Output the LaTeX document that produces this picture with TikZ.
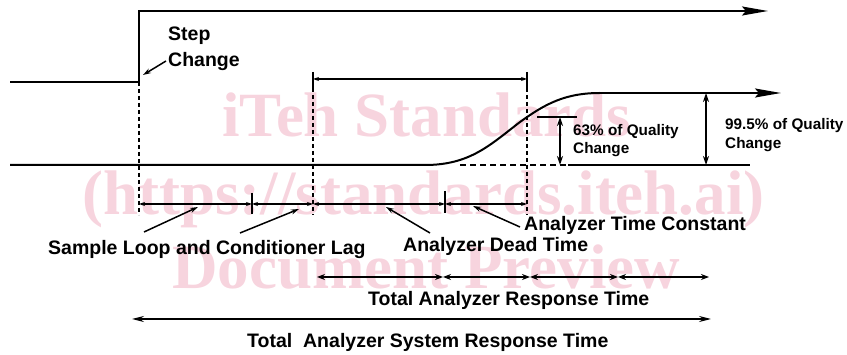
\documentclass[tikz,border=0pt]{standalone}
\usepackage{fontspec}
\setmainfont{Liberation Sans}
\newfontfamily\wmfont{Liberation Serif}
\usetikzlibrary{arrows.meta}
\definecolor{wm}{RGB}{247,212,222}
\tikzset{
  lbl/.style={inner sep=0pt, anchor=base west, font=\bfseries\fontsize{19.5}{22}\selectfont},
  slbl/.style={inner sep=0pt, anchor=base west, font=\bfseries\fontsize{15.3}{18}\selectfont},
  wmtext/.style={inner sep=0pt, anchor=base west, text=wm, font=\wmfont\bfseries\fontsize{63}{70}\selectfont},
  sig/.style={line width=2pt},
  bigtip/.style={-{Stealth[length=26pt,width=9pt,inset=4pt]}},
  guide/.style={line width=2pt, dash pattern=on 4pt off 3pt},
  tick/.style={line width=2pt},
  dimsm/.style={line width=1.1pt, {Stealth[length=6pt,width=4pt]}-{Stealth[length=6pt,width=4pt]}},
  dimmd/.style={line width=1.3pt, {Stealth[length=8pt,width=6pt]}-{Stealth[length=8pt,width=6pt]}},
  dimlg/.style={line width=1.3pt, {Stealth[length=12pt,width=6pt]}-{Stealth[length=12pt,width=6pt]}},
  dimv/.style={line width=1.6pt, {Stealth[length=9pt,width=6pt]}-{Stealth[length=9pt,width=6pt]}},
  pointer/.style={line width=1.5pt, -{Stealth[length=8pt,width=5pt]}},
  thin/.style={line width=1.4pt},
}
\begin{document}
\begin{tikzpicture}[x=1pt,y=-1pt]
\path[use as bounding box] (0,0) rectangle (847,355);
% watermark
\node[wmtext] (wm1) at (222,137) {iTeh Standards};
\node[wmtext] (wm2) at (82,215) {(https://standards.iteh.ai)};
\node[wmtext] (wm3) at (172,289) {Document Preview};

% coordinates
\coordinate (s0) at (10,82);
\coordinate (s1) at (139,82);
\coordinate (s2) at (139,11);
\coordinate (s3) at (768,11);

\coordinate (b0) at (10,165);
\coordinate (b1) at (425,165);
\coordinate (cm) at (520,122);
\coordinate (c2) at (600,93);
\coordinate (c3) at (781,93);
\coordinate (d0) at (460,165);
\coordinate (d1) at (568,165);
\coordinate (d2) at (750,165);

% step input
\draw[sig, bigtip] (s0) -- (s1) -- (s2) -- (s3);
% response curve
\draw[sig] (b0) -- (b1) .. controls (470,165) and (490,145) .. (cm)
   .. controls (545,104) and (565,93) .. (c2);
\draw[sig, bigtip] (c2) -- (c3);
\draw[thin, dash pattern=on 6pt off 4pt] (d0) -- (d1);
\draw[thin] (d1) -- (d2);

% vertical guides
\coordinate (g1t) at (139,82);  \coordinate (g1b) at (139,215);
\coordinate (g2t) at (313,72);  \coordinate (g2m) at (313,88); \coordinate (g2b) at (313,215);
\coordinate (g3t) at (527,72);  \coordinate (g3m) at (527,88); \coordinate (g3b) at (527,215);
\draw[guide] (g1t) -- (g1b);
\draw[tick] (g2t) -- (g2m);
\draw[guide] (g2m) -- (g2b);
\draw[tick] (g3t) -- (g3m);
\draw[guide] (g3m) -- (g3b);

% top interval
\coordinate (t0) at (313,79); \coordinate (t1) at (527,79);
\draw[dimsm] (t0) -- (t1);

% lower ticks
\coordinate (k1t) at (252,193); \coordinate (k1b) at (252,214);
\coordinate (k2t) at (445,191); \coordinate (k2b) at (445,213);
\draw[tick] (k1t) -- (k1b);
\draw[tick] (k2t) -- (k2b);

% lower interval row
\coordinate (r0) at (139,204);
\coordinate (r1) at (252,204);
\coordinate (r2) at (313,204);
\coordinate (r3) at (445,204);
\coordinate (r4) at (527,204);
\draw[dimsm] (r0) -- (r1);
\draw[dimsm] (r1) -- (r2);
\draw[dimsm] (r2) -- (r3);
\draw[dimsm] (r3) -- (r4);

% 63% marker
\coordinate (q0) at (537,117); \coordinate (q1) at (577,117);
\coordinate (qa) at (560,117); \coordinate (qb) at (560,165);
\draw[thin] (q0) -- (q1);
\draw[dimv] (qa) -- (qb);
% 99.5% marker
\coordinate (pa) at (706,93); \coordinate (pb) at (706,165);
\draw[dimv] (pa) -- (pb);

% response time row
\coordinate (a0) at (317,277);
\coordinate (a1) at (443,277);
\coordinate (a2) at (530,277);
\coordinate (a3) at (618,277);
\coordinate (a4) at (709,277);
\draw[dimmd] (a0) -- (a1);
\draw[dimmd] (a1) -- (a2);
\draw[dimmd] (a2) -- (a3);
\draw[dimmd] (a3) -- (a4);

% system response row
\coordinate (y0) at (132,319);
\coordinate (y1) at (711,319);
\draw[dimlg] (y0) -- (y1);

% labels
\node[lbl] (step) at (168,41) {Step};
\node[lbl] (chg) at (168,67) {Change};
\node[slbl] (q63a) at (573,136) {63\% of Quality};
\node[slbl] (q63b) at (573,154) {Change};
\node[slbl] (q99a) at (725,130) {99.5\% of Quality};
\node[slbl] (q99b) at (725,149) {Change};
\node[lbl] (slcl) at (48,255) {Sample Loop and Conditioner Lag};
\node[lbl] (adt) at (403,252) {Analyzer Dead Time};
\node[lbl] (atc) at (524,231) {Analyzer Time Constant};
\node[lbl] (tart) at (368,306) {Total Analyzer Response Time};
\node[lbl] (tasrt) at (247,348) {Total\ \ Analyzer System Response Time};

% pointers
\coordinate (p1s) at (166,61); \coordinate (p1e) at (143,75);
\draw[pointer] (p1s) -- (p1e);
\coordinate (p2s) at (144,232); \coordinate (p2e) at (198,207);
\draw[pointer] (p2s) -- (p2e);
\coordinate (p3s) at (240,233); \coordinate (p3e) at (299,209);
\draw[pointer] (p3s) -- (p3e);
\coordinate (p4s) at (430,233); \coordinate (p4e) at (386,207);
\draw[pointer] (p4s) -- (p4e);
\coordinate (p5s) at (520,227); \coordinate (p5e) at (473,206);
\draw[pointer] (p5s) -- (p5e);
\end{tikzpicture}
\end{document}
